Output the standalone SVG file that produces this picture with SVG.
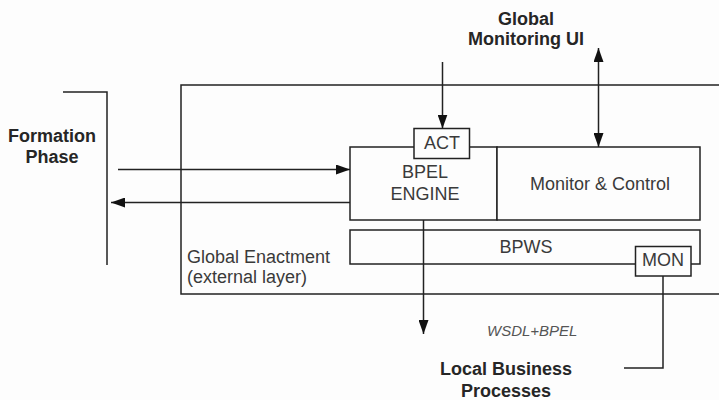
<svg xmlns="http://www.w3.org/2000/svg" width="719" height="400" viewBox="0 0 719 400">
  <style>
    .ln { fill: none; stroke: #222; stroke-width: 1.5; }
    .box { fill: #fdfdfd; stroke: #222; stroke-width: 1.5; }
    .t { font-family: "Liberation Sans", Arial, sans-serif; font-size: 18px; fill: #3a3a3a; }
    .b { font-weight: bold; fill: #262626; }
    .c { text-anchor: middle; }
    .it { font-style: italic; font-size: 15px; fill: #555; }
  </style>
  <defs>
    <marker id="arrow" markerUnits="userSpaceOnUse" markerWidth="14" markerHeight="10" viewBox="0 0 14 10" refX="14" refY="5" orient="auto-start-reverse">
      <path d="M0,0 L14,5 L0,10 Z" fill="#111"/>
    </marker>
  </defs>

  <rect x="0" y="0" width="719" height="400" fill="#fdfdfd"/>

  <!-- outer enactment layer (open on the right) -->
  <g id="global-enactment">
    <path class="ln" d="M719,85 H181 V294 H719"/>
    <text class="t" x="187" y="263">Global Enactment</text>
    <text class="t" x="187" y="283">(external layer)</text>
  </g>

  <!-- formation phase bracket -->
  <g id="formation-phase">
    <path class="ln" d="M63,92 H107 V265"/>
    <text class="t b c" x="52" y="142">Formation</text>
    <text class="t b c" x="52" y="163">Phase</text>
  </g>

  <g id="global-monitoring-ui">
    <text class="t b c" x="526" y="25">Global</text>
    <text class="t b c" x="526" y="45">Monitoring UI</text>
  </g>

  <g id="bpel-engine">
    <rect class="box" x="350" y="147" width="147" height="73"/>
    <text class="t c" x="425" y="178">BPEL</text>
    <text class="t c" x="425" y="200">ENGINE</text>
  </g>

  <g id="monitor-control">
    <rect class="box" x="497" y="147" width="203" height="73"/>
    <text class="t c" x="600" y="190">Monitor &amp; Control</text>
  </g>

  <g id="act">
    <rect class="box" x="414" y="128.5" width="55.5" height="30"/>
    <text class="t c" x="442" y="149">ACT</text>
  </g>

  <g id="bpws">
    <rect class="box" x="350" y="230" width="350" height="34"/>
    <text class="t c" x="526" y="253">BPWS</text>
  </g>

  <g id="mon">
    <rect class="box" x="635.5" y="246.5" width="55.5" height="29.5"/>
    <text class="t c" x="663" y="266">MON</text>
  </g>

  <g id="local-business-processes">
    <text class="t it" x="487" y="336">WSDL+BPEL</text>
    <text class="t b c" x="506" y="375">Local Business</text>
    <text class="t b c" x="506" y="397">Processes</text>
  </g>

  <g id="connectors">
    <line class="ln" x1="118" y1="169.5" x2="350" y2="169.5" marker-end="url(#arrow)"/>
    <line class="ln" x1="350" y1="202.5" x2="111" y2="202.5" marker-end="url(#arrow)"/>
    <line class="ln" x1="442.5" y1="62" x2="442.5" y2="128.5" marker-end="url(#arrow)"/>
    <line class="ln" x1="598.5" y1="48" x2="598.5" y2="147" marker-start="url(#arrow)" marker-end="url(#arrow)"/>
    <line class="ln" x1="423.5" y1="220" x2="423.5" y2="334" marker-end="url(#arrow)"/>
    <path class="ln" d="M663,276 V368 H624"/>
  </g>
</svg>
